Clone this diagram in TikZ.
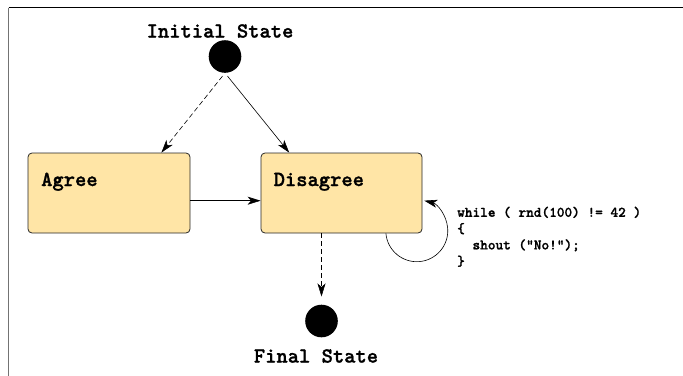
\documentclass[tikz,border=0pt]{standalone}
\usepackage{fontspec}
\newfontfamily\statett{lmmonolt10-bold.otf}[FakeBold=1.2]
\usetikzlibrary{arrows.meta}
\definecolor{statefill}{HTML}{FFE5A6}
\tikzset{
  statebox/.style={draw=black!85, line width=0.8pt, fill=statefill, rounded corners=4pt,
    minimum width=162pt, minimum height=80pt, inner sep=0pt},
  pseudo/.style={circle, fill=black, minimum size=32.6pt, inner sep=0pt},
  bigtext/.style={font=\fontsize{21.5}{24}\selectfont\statett, inner sep=0pt},
  codetext/.style={font=\fontsize{14.6}{16.3}\selectfont\statett, inner sep=0pt, align=left},
  trans/.style={line width=0.6pt, -{Stealth[length=13pt,width=8pt,inset=3.5pt]}},
  dashtrans/.style={trans, dash pattern=on 5pt off 3pt}
}
\begin{document}
\begin{tikzpicture}[x=1pt,y=1pt]
\useasboundingbox (0,0) rectangle (683,-375);
% frame
\draw[black!55, line width=1.6pt] (8.5,-7.5) -- (8.5,-380);
\draw[black, line width=1pt] (8.5,-7.5) -- (690,-7.5);

\node[pseudo] (init) at (225,-56.5) {};
\node[bigtext] (initlabel) at (220,-31) {Initial State};

\node[statebox] (agree) at (109,-193) {};
\node[bigtext, anchor=base west] (agreelabel) at (41,-186) {Agree};

\node[statebox, minimum width=161pt] (dis) at (341.5,-193) {};
\node[bigtext, anchor=base west] (dislabel) at (273.5,-186) {Disagree};

\node[pseudo] (final) at (321.5,-321) {};
\node[bigtext] (finallabel) at (316,-356) {Final State};

\node[codetext, anchor=north west] (code) at (457,-206.5)
  {while ( rnd(100) != 42 )\\\{\\\phantom{xx}shout ("No!");\\\}};

\draw[dashtrans, shorten <=4pt] (init.south) -- ([xshift=-29pt]agree.north east);
\draw[trans, shorten <=4pt] (init.south) -- ([xshift=28.6pt]dis.north west);
\draw[trans] ([yshift=-7.7pt]agree.east) -- ([yshift=-7.7pt]dis.west);
\draw[dashtrans, shorten >=8pt] ([xshift=-20pt]dis.south) -- (final.north);
\draw[trans] ([xshift=-36.5pt]dis.south east) arc[start angle=185, end angle=436, radius=31pt];
\end{tikzpicture}
\end{document}
